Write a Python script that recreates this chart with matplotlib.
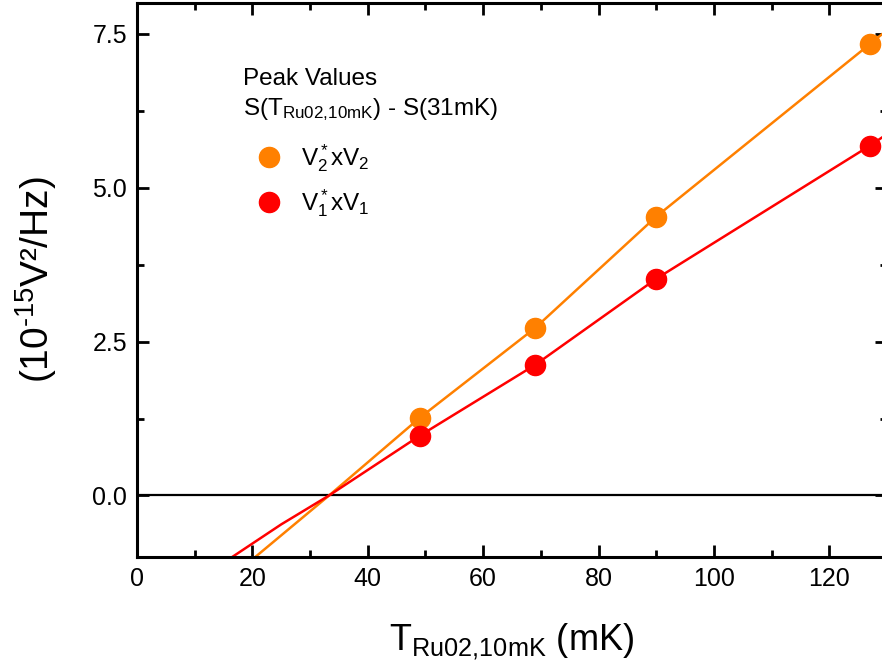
import numpy as np
import matplotlib
matplotlib.use('Agg')
import matplotlib.pyplot as plt
from matplotlib.ticker import MultipleLocator, FormatStrFormatter
from matplotlib.lines import Line2D

plt.rcParams['font.family'] = ['Liberation Sans', 'DejaVu Sans']
plt.rcParams['mathtext.fontset'] = 'custom'
plt.rcParams['mathtext.rm'] = 'Liberation Sans'
plt.rcParams['mathtext.it'] = 'Liberation Sans'
plt.rcParams['mathtext.default'] = 'regular'

# peak values
temps = [49, 69, 90, 127]
v2v2 = [1.26, 2.72, 4.53, 7.33]
v1v1 = [0.97, 2.12, 3.52, 5.68]

# fitted lines (vertices)
fit2_x = [20.5, 33.3, 49, 69, 90, 127, 130]
fit2_y = [-1.0, 0.0, 1.26, 2.72, 4.53, 7.33, 7.56]
fit1_x = [16.5, 25, 33.3, 49, 69, 90, 127, 130]
fit1_y = [-1.0, -0.47, 0.0, 0.97, 2.12, 3.52, 5.68, 5.87]

orange = '#ff8000'
red = '#ff0000'

fig = plt.figure(figsize=(8.82, 6.72), dpi=100)
ax = fig.add_axes([137/882, 115/672, 750/882, 554/672])

ax.axhline(0, color='black', lw=1.6, zorder=1)
ax.plot(fit2_x, fit2_y, color=orange, lw=1.8, zorder=2)
ax.plot(fit1_x, fit1_y, color=red, lw=1.8, zorder=2)
ax.plot(temps, v2v2, 'o', color=orange, ms=14.5, zorder=3)
ax.plot(temps, v1v1, 'o', color=red, ms=14.5, zorder=3)

ax.set_xlim(0, 130)
ax.set_ylim(-1, 8)
ax.xaxis.set_major_locator(MultipleLocator(20))
ax.xaxis.set_minor_locator(MultipleLocator(10))
ax.yaxis.set_major_locator(MultipleLocator(2.5))
ax.yaxis.set_minor_locator(MultipleLocator(1.25))
ax.yaxis.set_major_formatter(FormatStrFormatter('%.1f'))
ax.tick_params(which='both', direction='in', top=True, right=True, width=2, labelsize=18)
ax.tick_params(which='major', length=8.5, pad=7)
ax.tick_params(which='minor', length=5)
for s in ax.spines.values():
    s.set_linewidth(2.2)

ax.set_xlabel(r'T$_{\text{Ru02,10mK}}$ (mK)', fontsize=26, labelpad=22)
ax.set_ylabel(r'(10$^{\text{-15}}$V²/Hz)', fontsize=28, labelpad=24)

ax.text(243/882, 587/672, 'Peak Values', transform=fig.transFigure, fontsize=17.5)
ax.text(243/882, 557/672, r'S(T$_{\text{Ru02,10mK}}$) - S(31mK)', transform=fig.transFigure, fontsize=17.5)

handles = [Line2D([], [], ls='none', marker='o', color=orange, ms=14.5),
           Line2D([], [], ls='none', marker='o', color=red, ms=14.5)]
labels = [r'V$^*_2$xV$_2$', r'V$^*_1$xV$_1$']
fig.legend(handles, labels, loc='upper left', bbox_to_anchor=(245/882, 1 - 130/672),
           frameon=False, fontsize=17.5, handlelength=1.0, handletextpad=0.8,
           labelspacing=0.55, borderpad=0)

fig.savefig('out.png', dpi=100)
